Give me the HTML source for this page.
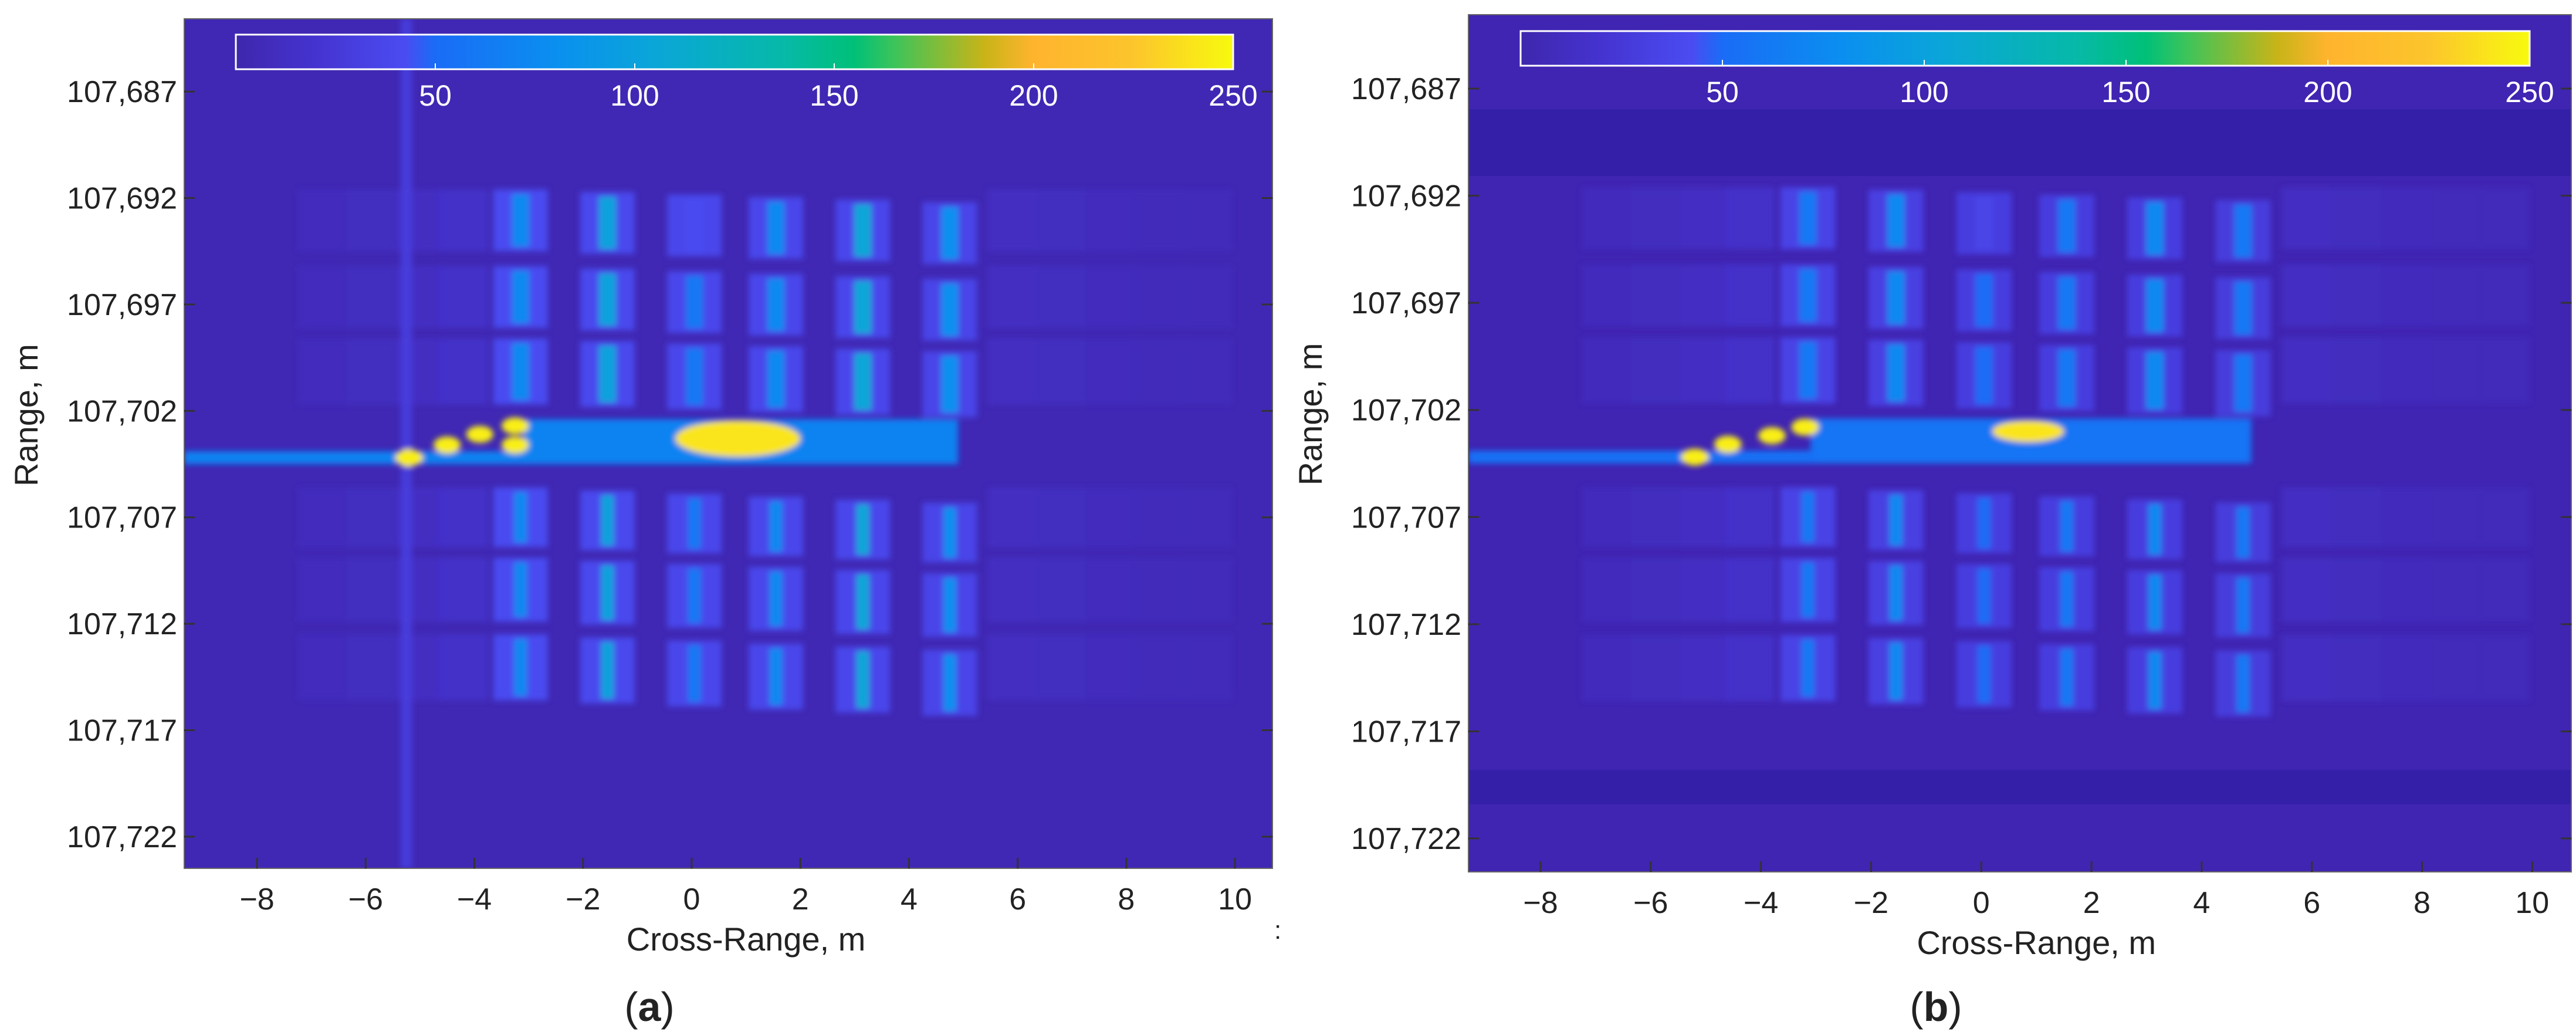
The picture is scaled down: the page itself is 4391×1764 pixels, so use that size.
<!DOCTYPE html>
<html><head><meta charset="utf-8">
<style>
html,body{margin:0;padding:0;background:#fff;}
svg{display:block;}
text{font-family:"Liberation Sans",sans-serif;fill:#222;}
</style></head>
<body>
<svg id="fig" width="4391" height="1764" viewBox="0 0 4391 1764" xmlns="http://www.w3.org/2000/svg">
<defs>
<linearGradient id="cbg" x1="0" x2="1" y1="0" y2="0">
<stop offset="0" stop-color="#3e27ad"/><stop offset="0.08" stop-color="#4533d0"/><stop offset="0.17" stop-color="#4a4cf2"/>
<stop offset="0.2" stop-color="#1a6cf6"/><stop offset="0.32" stop-color="#0a8ff0"/><stop offset="0.42" stop-color="#0aa6d8"/>
<stop offset="0.55" stop-color="#06b9a8"/><stop offset="0.62" stop-color="#00c078"/><stop offset="0.66" stop-color="#3cc45a"/>
<stop offset="0.75" stop-color="#c8b418"/><stop offset="0.8" stop-color="#ffb42e"/><stop offset="0.9" stop-color="#fcc52c"/><stop offset="1" stop-color="#f8fa0e"/>
</linearGradient>
<filter id="soft" x="-5%" y="-5%" width="110%" height="110%"><feGaussianBlur stdDeviation="5"/></filter>
</defs>
</svg>
<script>
// ---- data ----
const xTicks = [-8,-6,-4,-2,0,2,4,6,8,10];
const yTicks = [107687,107692,107697,107702,107707,107712,107717,107722];
const yTickLabels = ["107,687","107,692","107,697","107,702","107,707","107,712","107,717","107,722"];
const cbTicks = [50,100,150,200,250];
const columnX = [-3.15,-1.55,0.05,1.55,3.15,4.75];
const upperBlocks = [[107691.6,107694.5],[107695.2,107698.1],[107698.6,107701.7]];
const lowerBlocks = [[107705.6,107708.4],[107708.9,107711.9],[107712.5,107715.6]];
const coreValuesA = [75,100,60,75,105,80];
const coreValuesB = [60,75,50,60,75,60];
const haloValuesA = [42,40,38,38,38,36];
const haloValuesB = [34,32,30,30,30,28];
const faintX = [-6.8,-5.9,-5.0,-4.2,5.9,6.8,7.7,8.6,9.5];
const faintValues = [10,12,14,18,14,12,10,9,8];
const brightPointsA = [[-5.2,107704.2],[-4.5,107703.6],[-3.9,107703.1],[-3.25,107702.7],[-3.25,107703.6]];
const brightPointsB = [[-5.2,107704.2],[-4.6,107703.6],[-3.8,107703.2],[-3.2,107702.8]];
const blobA = [0.85,107703.3,1.15,0.85];
const blobB = [0.85,107703.0,0.65,0.5];

// ---- colormap ----
const stops=[[0,[62,39,173]],[0.08,[69,51,208]],[0.17,[74,76,242]],[0.2,[26,108,246]],[0.32,[10,143,240]],[0.42,[10,166,216]],[0.55,[6,185,168]],[0.62,[0,192,120]],[0.66,[60,196,90]],[0.75,[200,180,24]],[0.8,[255,180,46]],[0.9,[252,197,44]],[1,[248,250,14]]];
function cmap(v){let t=Math.max(0,Math.min(1,v/250));for(let i=1;i<stops.length;i++){if(t<=stops[i][0]){const a=stops[i-1],b=stops[i];const f=(t-a[0])/(b[0]-a[0]);const c=a[1].map((x,k)=>Math.round(x+(b[1][k]-x)*f));return `rgb(${c})`;}}return 'rgb(248,250,14)';}

const NS="http://www.w3.org/2000/svg";
const fig=document.getElementById('fig');
function mk(tag,attrs,parent){const e=document.createElementNS(NS,tag);for(const k in attrs)e.setAttribute(k,attrs[k]);(parent||fig).appendChild(e);return e;}

function panel(cfg){
  const g=mk('g',{});
  
  
  const X=v=>cfg.x0+(v-cfg.xmin)/(cfg.xmax-cfg.xmin)*(cfg.x1-cfg.x0);
  const Y=v=>cfg.y0+(v-cfg.ymin)/(cfg.ymax-cfg.ymin)*(cfg.y1-cfg.y0);
  const cp='cp'+cfg.id;
  const c=mk('clipPath',{id:cp},g);mk('rect',{x:cfg.x0,y:cfg.y0,width:cfg.x1-cfg.x0,height:cfg.y1-cfg.y0},c);
  const hm=mk('g',{'clip-path':`url(#${cp})`},g);
  
  
  mk('rect',{x:cfg.x0,y:cfg.y0,width:cfg.x1-cfg.x0,height:cfg.y1-cfg.y0,fill:cfg.bg},hm);
  if(cfg.bands){cfg.bands.forEach(b=>{const r=mk('rect',{x:cfg.x0,y:Y(b[0]),width:cfg.x1-cfg.x0,height:Y(b[1])-Y(b[0]),fill:'#3420a8'},hm);
    });}
  const soft=mk('g',{filter:'url(#soft)'},hm);
  faintX.forEach((fx,i)=>{[...upperBlocks,...lowerBlocks].forEach(b=>{
    const r=mk('rect',{x:X(fx-0.45),y:Y(b[0]),width:X(0.9)-X(0),height:Y(b[1])-Y(b[0]),fill:cmap(faintValues[i]),opacity:0.8},soft);
    });});
  columnX.forEach((cx,i)=>{
    const sh=i*0.12;
    [...upperBlocks,...lowerBlocks].forEach((b,j)=>{
      const up=j<3; const s=up?sh:sh*1.2;
      const h=mk('rect',{x:X(cx-0.5),y:Y(b[0]+s),width:X(1.0)-X(0),height:Y(b[1])-Y(b[0]),fill:cmap(cfg.halo[i])},soft);
      
      const cw=up?0.32:0.24;
      const r=mk('rect',{x:X(cx-cw/2),y:Y(b[0]+s+0.2),width:X(cw)-X(0),height:Y(b[1])-Y(b[0]+0.4),fill:cmap(cfg.core[i]*(up&&j==0&&i==2?0.7:1))},soft);
      
    });
  });
  if(cfg.vline!==undefined){const r=mk('rect',{x:X(cfg.vline-0.1),y:cfg.y0,width:X(0.2)-X(0),height:cfg.y1-cfg.y0,fill:cmap(28)},soft);
    }
  const st=mk('rect',{x:X(-3.1),y:Y(107702.4),width:X(4.9)-X(-3.1),height:Y(107704.5)-Y(107702.4),fill:cmap(cfg.strip)},soft);
  
  const ln=mk('rect',{x:X(cfg.xmin),y:Y(107703.9),width:X(-3)-X(cfg.xmin),height:Y(107704.5)-Y(107703.9),fill:cmap(cfg.line)},soft);
  
  const bl=mk('ellipse',{cx:X(cfg.blob[0]),cy:Y(cfg.blob[1]),rx:X(cfg.blob[2])-X(0),ry:Y(cfg.blob[1]+cfg.blob[3])-Y(cfg.blob[1]),fill:cmap(240)},soft);
  
  cfg.pts.forEach(p=>{const e=mk('ellipse',{cx:X(p[0]),cy:Y(p[1]),rx:X(0.25)-X(0),ry:Y(p[1]+0.4)-Y(p[1]),fill:cmap(245)},soft);
    });
  mk('rect',{x:cfg.x0,y:cfg.y0,width:cfg.x1-cfg.x0,height:cfg.y1-cfg.y0,fill:'none',stroke:'#666','stroke-width':2},g);
  xTicks.forEach(t=>{const x=X(t);
    mk('line',{x1:x,x2:x,y1:cfg.y1,y2:cfg.y1-18,stroke:'#333','stroke-width':3},g);
    const tx=mk('text',{x:x,y:cfg.y1+70,'font-size':52,'text-anchor':'middle'},g);
    tx.textContent=(t<0?'\u2212'+(-t):String(t));
    });
  yTicks.forEach((t,i)=>{const y=Y(t);
    mk('line',{x1:cfg.x0,x2:cfg.x0+18,y1:y,y2:y,stroke:'#333','stroke-width':3},g);
    mk('line',{x1:cfg.x1,x2:cfg.x1-18,y1:y,y2:y,stroke:'#333','stroke-width':3},g);
    const tx=mk('text',{x:cfg.x0-12,y:y+18,'font-size':52,'text-anchor':'end'},g);
    tx.textContent=yTickLabels[i];
    });
  const xl=mk('text',{x:(X(-8)+X(10))/2,y:cfg.y1+140,'font-size':56,'text-anchor':'middle'},g);xl.textContent='Cross-Range, m';
  
  const yl=mk('text',{x:0,y:0,'font-size':56,'text-anchor':'middle',transform:`translate(${cfg.x0-250},${Y(107702.2)}) rotate(-90)`},g);yl.textContent='Range, m';
  
  const cb=mk('g',{},g);
  mk('rect',{x:cfg.cb[0],y:cfg.cb[1],width:cfg.cb[2]-cfg.cb[0],height:cfg.cb[3]-cfg.cb[1],fill:'url(#cbg)',stroke:'#fff','stroke-width':3},cb);
  cbTicks.forEach(t=>{const x=cfg.cb[0]+t/250*(cfg.cb[2]-cfg.cb[0]);
    mk('line',{x1:x,x2:x,y1:cfg.cb[3],y2:cfg.cb[3]-10,stroke:'#fff','stroke-width':2},cb);
    const tx=mk('text',{x:x,y:cfg.cb[3]+62,'font-size':50,'text-anchor':'middle',style:'fill:#fff'},cb);tx.textContent=String(t);
    });
  const cap=mk('text',{x:cfg.cap[0],y:cfg.cap[1],'font-size':70,'text-anchor':'middle','font-family':'Liberation Serif, serif'},g);
  cap.innerHTML=cfg.capText;
  
}
panel({id:'a',name:'panel-a',x0:314,x1:2169,y0:32,y1:1480,xmin:-9.34,xmax:10.69,ymin:107683.58,ymax:107723.49,bg:'#4028b4',
  core:coreValuesA,halo:haloValuesA,strip:70,line:70,blob:blobA,pts:brightPointsA,vline:-5.25,
  cb:[402,59,2102,118],cap:[1107,1740],capText:'(<tspan font-weight="bold">a</tspan>)'});
panel({id:'b',name:'panel-b',x0:2503,x1:4383,y0:25,y1:1486,xmin:-9.31,xmax:10.71,ymin:107683.55,ymax:107723.56,bg:'#4024b2',
  core:coreValuesB,halo:haloValuesB,strip:58,line:55,blob:blobB,pts:brightPointsB,
  bands:[[107687.96,107691.08],[107718.8,107720.4]],
  cb:[2592,53,4312,112],cap:[3300,1740],capText:'(<tspan font-weight="bold">b</tspan>)'});
const colon=mk('text',{x:2172,y:1600,'font-size':44});colon.textContent=':';


</script>
</body></html>
